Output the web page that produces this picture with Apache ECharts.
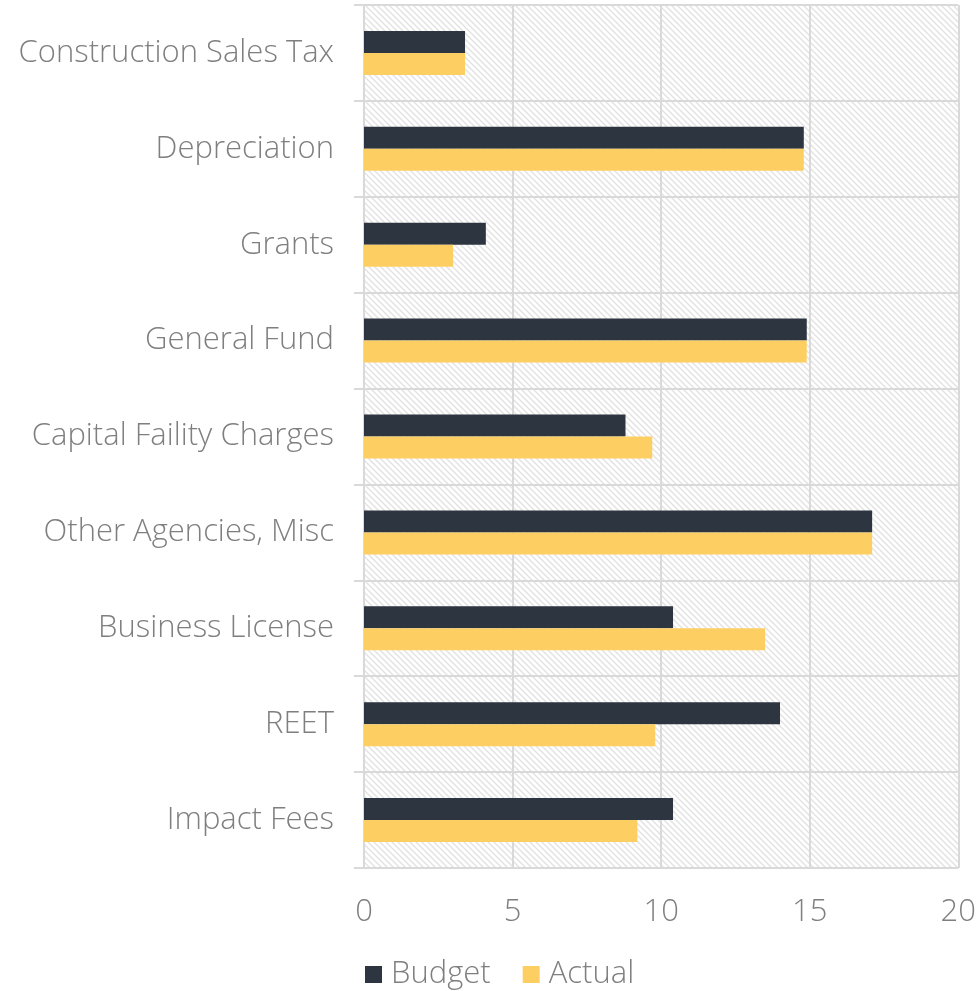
<!DOCTYPE html>
<html>
<head>
<meta charset="utf-8">
<script src="https://cdn.jsdelivr.net/npm/echarts@6/dist/echarts.min.js"></script>
<style>
  html, body { margin: 0; padding: 0; background: #fff; }
  #main { width: 979px; height: 991px; }
</style>
</head>
<body>
<div id="main"></div>
<script>
// categories, top to bottom
const categories = [
  "Construction Sales Tax",
  "Depreciation",
  "Grants",
  "General Fund",
  "Capital Faility Charges",
  "Other Agencies, Misc",
  "Business License",
  "REET",
  "Impact Fees"
];
const budget = [3.4, 14.8, 4.1, 14.9, 8.8, 17.1, 10.4, 14.0, 10.4];
const actual = [3.4, 14.8, 3.0, 14.9, 9.7, 17.1, 13.5, 9.8, 9.2];
const xTicks = [0, 5, 10, 15, 20];

// hatched background for the plot area
function makeHatch() {
  const c = document.createElement("canvas");
  c.width = 6;
  c.height = 6;
  const ctx = c.getContext("2d");
  ctx.fillStyle = "#ffffff";
  ctx.fillRect(0, 0, 6, 6);
  ctx.strokeStyle = "#e2e2e2";
  ctx.lineWidth = 1.4;
  ctx.beginPath();
  ctx.moveTo(-1, -1);
  ctx.lineTo(7, 7);
  ctx.moveTo(-1, 5);
  ctx.lineTo(1, 7);
  ctx.moveTo(5, -1);
  ctx.lineTo(7, 1);
  ctx.stroke();
  return c;
}

const gridColor = "#d9d9d9";
const textColor = "#7f7f7f";
const font = "'Open Sans', 'Noto Sans', sans-serif";

const option = {
  animation: false,
  textStyle: { fontFamily: font },
  grid: {
    left: 364,
    right: 19,
    top: 5,
    bottom: 123,
    show: true,
    borderWidth: 0,
    backgroundColor: { image: makeHatch(), repeat: "repeat" },
  },
  legend: {
    top: 954,
    left: 360,
    itemWidth: 17,
    itemHeight: 17,
    itemGap: 32,
    icon: "rect",
    textStyle: {
      fontSize: 31,
      color: textColor,
      fontFamily: font,
      fontWeight: 300,
      padding: [0, 0, 0, 4],
    },
    data: ["Budget", "Actual"],
  },
  xAxis: {
    type: "value",
    min: xTicks[0],
    max: xTicks[xTicks.length - 1],
    interval: 5,
    axisLine: { show: false },
    axisTick: { show: false },
    axisLabel: {
      fontSize: 31,
      color: textColor,
      fontWeight: 300,
      margin: 29,
    },
    splitLine: { show: true, lineStyle: { color: gridColor, width: 2 } },
  },
  yAxis: {
    type: "category",
    inverse: true,
    data: categories,
    axisLine: { show: false },
    axisTick: { show: true, length: 10, lineStyle: { color: gridColor, width: 2 } },
    axisLabel: {
      fontSize: 31,
      color: textColor,
      fontWeight: 300,
      margin: 30,
    },
    splitLine: { show: true, lineStyle: { color: gridColor, width: 2 } },
  },
  series: [
    {
      name: "Budget",
      type: "bar",
      data: budget,
      barWidth: 22,
      barGap: "0%",
      itemStyle: { color: "#2d3540" },
    },
    {
      name: "Actual",
      type: "bar",
      data: actual,
      barWidth: 22,
      barGap: "0%",
      itemStyle: { color: "#fdcf63" },
    },
  ],
};

const myChart = echarts.init(document.getElementById("main"));
myChart.setOption(option);
</script>
</body>
</html>
